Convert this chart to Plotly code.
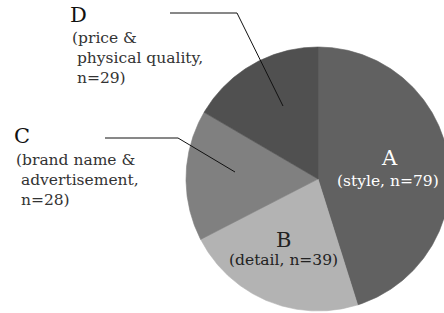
import math
import plotly.graph_objects as go

labels = ["A", "B", "C", "D"]
descriptions = ["(style, n=79)", "(detail, n=39)", "(brand name &<br> advertisement,<br> n=28)", "(price &<br> physical quality,<br> n=29)"]
values = [79, 39, 28, 29]
colors = ["#616161", "#b3b3b3", "#808080", "#505050"]

W, H = 444, 313
cx, cy, R = 318, 179, 132

fig = go.Figure()
total = sum(values)
start = 0.0
for lab, v, col in zip(labels, values, colors):
    a0 = start / total * 2 * math.pi
    a1 = (start + v) / total * 2 * math.pi
    n = max(8, int(v * 4))
    xs, ys = [cx], [cy]
    for i in range(n + 1):
        a = a0 + (a1 - a0) * i / n
        xs.append(cx + R * math.sin(a))
        ys.append(cy - R * math.cos(a))
    xs.append(cx); ys.append(cy)
    fig.add_trace(go.Scatter(x=xs, y=ys, fill="toself", fillcolor=col, mode="lines",
                             line=dict(color=col, width=0.6), hoverinfo="skip", showlegend=False))
    start += v

font = "DejaVu Serif"
big = 21
small = 15.5
# inside labels
fig.add_annotation(x=389, y=158, text="A", showarrow=False, font=dict(family=font, size=big, color="white"))
fig.add_annotation(x=388, y=181, text=descriptions[0], showarrow=False, font=dict(family=font, size=small, color="white"))
fig.add_annotation(x=283, y=240, text="B", showarrow=False, font=dict(family=font, size=big, color="#222"))
fig.add_annotation(x=283, y=260, text=descriptions[1], showarrow=False, font=dict(family=font, size=small, color="#222"))

# outside labels
fig.add_annotation(x=68, y=15, text="D", showarrow=False, xanchor="left", font=dict(family=font, size=big, color="#111"))
fig.add_annotation(x=70, y=58, text=descriptions[3], showarrow=False, xanchor="left", yanchor="middle", align="left",
                   font=dict(family=font, size=small, color="#333"))
fig.add_annotation(x=12, y=136, text="C", showarrow=False, xanchor="left", font=dict(family=font, size=big, color="#111"))
fig.add_annotation(x=14, y=180, text=descriptions[2], showarrow=False, xanchor="left", yanchor="middle", align="left",
                   font=dict(family=font, size=small, color="#333"))

# leader lines
fig.add_trace(go.Scatter(x=[170, 237, 283], y=[13, 13, 106], mode="lines", line=dict(color="#111", width=1),
                         hoverinfo="skip", showlegend=False))
fig.add_trace(go.Scatter(x=[105, 178, 235], y=[138, 138, 172], mode="lines", line=dict(color="#111", width=1),
                         hoverinfo="skip", showlegend=False))

fig.update_xaxes(range=[0, W], visible=False, fixedrange=True)
fig.update_yaxes(range=[H, 0], visible=False, fixedrange=True)
fig.update_layout(width=W, height=H, margin=dict(l=0, r=0, t=0, b=0),
                  paper_bgcolor="white", plot_bgcolor="white")
fig.write_html("out.html", config={"displayModeBar": False},
               post_script="document.body.style.margin='0';document.body.style.overflow='hidden';")
